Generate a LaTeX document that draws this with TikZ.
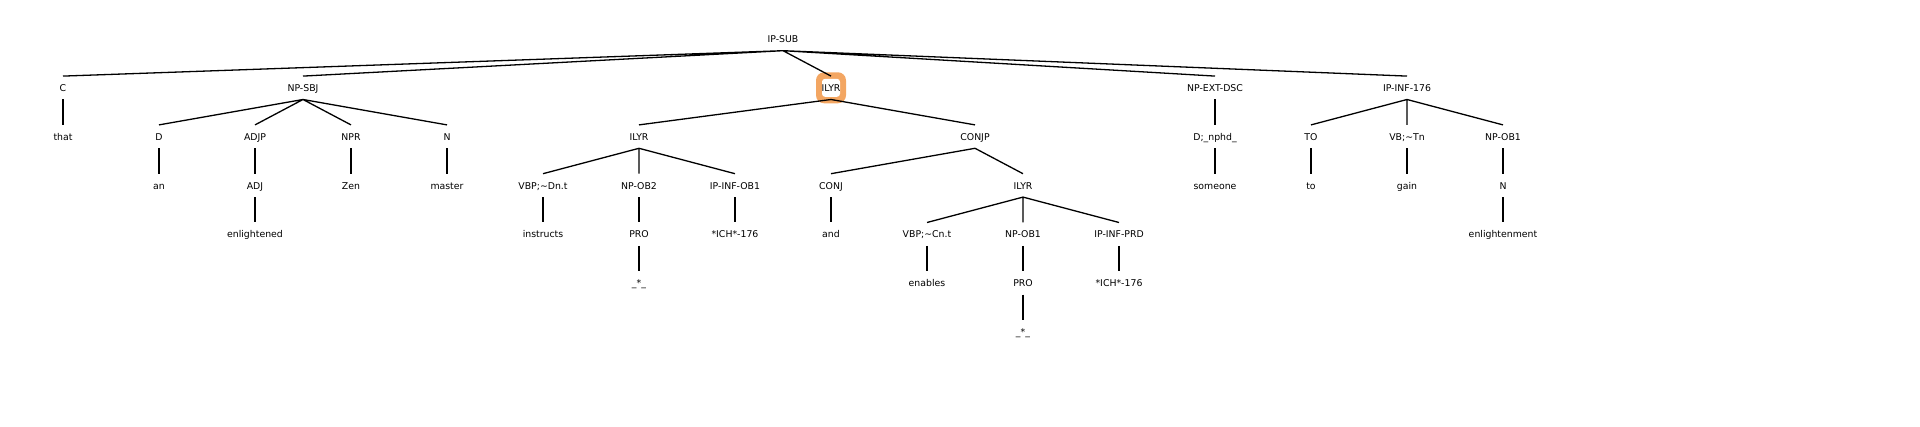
\documentclass[tikz,border=0pt]{standalone}
\usepackage{fontspec}
\setmainfont{DejaVu Sans}
\definecolor{hlorange}{RGB}{243,166,98}
\tikzset{
  tag/.style={font=\fontsize{9.35}{11}\selectfont, inner sep=0pt, text height=0.73em, text depth=0pt, minimum height=23pt},
  branch/.style={line width=1.3pt},
  hlouter/.style={fill=hlorange, rounded corners=8pt, minimum width=30pt, minimum height=31pt, inner sep=0pt},
  hlinner/.style={fill=white, rounded corners=3pt, minimum width=18pt, minimum height=18pt, inner sep=0pt}
}

\begin{document}
\begin{tikzpicture}[x=96pt, y=-48.8pt]
\useasboundingbox (-0.65625,-0.7992) rectangle (19.34375,7.9508);

\node[hlouter] (hlbox) at (8,1) {};
\node[hlinner] (hlback) at (8,1) {};

\node[tag] (ipsub) at (7.5,0) {IP-SUB};

\node[tag] (c) at (0,1) {C};
\node[tag] (npsbj) at (2.5,1) {NP-SBJ};
\node[tag] (ilyr) at (8,1) {ILYR};
\node[tag] (npextdsc) at (12,1) {NP-EXT-DSC};
\node[tag] (ipinf) at (14,1) {IP-INF-176};

\node[tag] (that) at (0,2) {that};
\node[tag] (d) at (1,2) {D};
\node[tag] (adjp) at (2,2) {ADJP};
\node[tag] (npr) at (3,2) {NPR};
\node[tag] (n) at (4,2) {N};
\node[tag] (ilyra) at (6,2) {ILYR};
\node[tag] (conjp) at (9.5,2) {CONJP};
\node[tag] (dnphd) at (12,2) {D;\_nphd\_};
\node[tag] (to) at (13,2) {TO};
\node[tag] (vb) at (14,2) {VB;\textasciitilde Tn};
\node[tag] (npobc) at (15,2) {NP-OB1};

\node[tag] (an) at (1,3) {an};
\node[tag] (adj) at (2,3) {ADJ};
\node[tag] (zen) at (3,3) {Zen};
\node[tag] (master) at (4,3) {master};
\node[tag] (vbpa) at (5,3) {VBP;\textasciitilde Dn.t};
\node[tag] (npobtwo) at (6,3) {NP-OB2};
\node[tag] (ipinfob) at (7,3) {IP-INF-OB1};
\node[tag] (conj) at (8,3) {CONJ};
\node[tag] (ilyrb) at (10,3) {ILYR};
\node[tag] (someone) at (12,3) {someone};
\node[tag] (toword) at (13,3) {to};
\node[tag] (gain) at (14,3) {gain};
\node[tag] (nc) at (15,3) {N};

\node[tag] (enlightened) at (2,4) {enlightened};
\node[tag] (instructs) at (5,4) {instructs};
\node[tag] (proa) at (6,4) {PRO};
\node[tag] (icha) at (7,4) {*ICH*-176};
\node[tag] (and) at (8,4) {and};
\node[tag] (vbpb) at (9,4) {VBP;\textasciitilde Cn.t};
\node[tag] (npobb) at (10,4) {NP-OB1};
\node[tag] (ipinfprd) at (11,4) {IP-INF-PRD};
\node[tag] (enlightenment) at (15,4) {enlightenment};

\node[tag] (tracea) at (6,5) {\_*\_};
\node[tag] (enables) at (9,5) {enables};
\node[tag] (prob) at (10,5) {PRO};
\node[tag] (ichb) at (11,5) {*ICH*-176};

\node[tag] (traceb) at (10,6) {\_*\_};

\draw[branch] (ipsub.south) -- (c.north) (ipsub.south) -- (npsbj.north)
  (ipsub.south) -- (ilyr.north) (ipsub.south) -- (npextdsc.north)
  (ipsub.south) -- (ipinf.north);
\draw[branch] (c.south) -- (that.north);
\draw[branch] (npsbj.south) -- (d.north) (npsbj.south) -- (adjp.north)
  (npsbj.south) -- (npr.north) (npsbj.south) -- (n.north);
\draw[branch] (d.south) -- (an.north);
\draw[branch] (adjp.south) -- (adj.north);
\draw[branch] (adj.south) -- (enlightened.north);
\draw[branch] (npr.south) -- (zen.north);
\draw[branch] (n.south) -- (master.north);
\draw[branch] (ilyr.south) -- (ilyra.north) (ilyr.south) -- (conjp.north);
\draw[branch] (ilyra.south) -- (vbpa.north) (ilyra.south) -- (npobtwo.north)
  (ilyra.south) -- (ipinfob.north);
\draw[branch] (vbpa.south) -- (instructs.north);
\draw[branch] (npobtwo.south) -- (proa.north);
\draw[branch] (proa.south) -- (tracea.north);
\draw[branch] (ipinfob.south) -- (icha.north);
\draw[branch] (conjp.south) -- (conj.north) (conjp.south) -- (ilyrb.north);
\draw[branch] (conj.south) -- (and.north);
\draw[branch] (ilyrb.south) -- (vbpb.north) (ilyrb.south) -- (npobb.north)
  (ilyrb.south) -- (ipinfprd.north);
\draw[branch] (vbpb.south) -- (enables.north);
\draw[branch] (npobb.south) -- (prob.north);
\draw[branch] (prob.south) -- (traceb.north);
\draw[branch] (ipinfprd.south) -- (ichb.north);
\draw[branch] (npextdsc.south) -- (dnphd.north);
\draw[branch] (dnphd.south) -- (someone.north);
\draw[branch] (ipinf.south) -- (to.north) (ipinf.south) -- (vb.north)
  (ipinf.south) -- (npobc.north);
\draw[branch] (to.south) -- (toword.north);
\draw[branch] (vb.south) -- (gain.north);
\draw[branch] (npobc.south) -- (nc.north);
\draw[branch] (nc.south) -- (enlightenment.north);
\end{tikzpicture}
\end{document}
